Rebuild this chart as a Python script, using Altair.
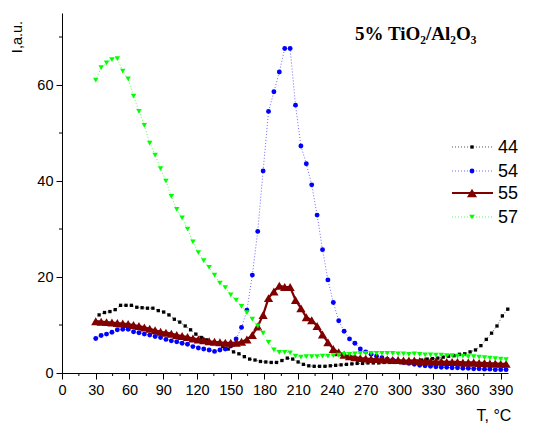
import altair as alt
import pandas as pd

# Temperature grid (series 54, 55, 57)
T = [30.0, 34.8, 39.6, 44.4, 49.2, 54.0, 58.8, 63.6, 68.4, 73.2,
     78.0, 82.8, 87.6, 92.4, 97.2, 102.0, 106.8, 111.6, 116.4, 121.2,
     126.0, 130.8, 135.6, 140.4, 145.2, 150.0, 154.8, 159.6, 164.4, 169.2,
     174.0, 178.8, 183.6, 188.4, 193.2, 198.0, 202.8, 207.6, 212.4, 217.2,
     222.0, 226.8, 231.6, 236.4, 241.2, 246.0, 250.8, 255.6, 260.4, 265.2,
     270.0, 274.8, 279.6, 284.4, 289.2, 294.0, 298.8, 303.6, 308.4, 313.2,
     318.0, 322.8, 327.6, 332.4, 337.2, 342.0, 346.8, 351.6, 356.4, 361.2,
     366.0, 370.8, 375.6, 380.4, 385.2, 390.0, 394.8]

# Temperature grid of series 44
T44 = [33.0, 37.8, 42.6, 47.3, 52.1, 56.9, 61.7, 66.5, 71.2, 76.0,
       80.8, 85.6, 90.4, 95.1, 99.9, 104.7, 109.5, 114.3, 119.0, 123.8,
       128.6, 133.4, 138.2, 142.9, 147.7, 152.5, 157.3, 162.1, 166.8, 171.6,
       176.4, 181.2, 186.0, 190.7, 195.5, 200.3, 205.1, 209.9, 214.6, 219.4,
       224.2, 229.0, 233.8, 238.5, 243.3, 248.1, 252.9, 257.7, 262.4, 267.2,
       272.0, 276.8, 281.6, 286.3, 291.1, 295.9, 300.7, 305.5, 310.2, 315.0,
       319.8, 324.6, 329.4, 334.1, 338.9, 343.7, 348.5, 353.3, 358.0, 362.8,
       367.6, 372.4, 377.2, 381.9, 386.7, 391.5, 396.3]

I44 = [12.1, 12.6, 12.8, 13.2, 14.1, 14.1, 14.1, 13.7, 13.6, 13.5,
       13.5, 13.0, 12.7, 12.1, 11.2, 10.6, 9.8, 9.0, 8.1, 7.4,
       6.9, 6.3, 6.0, 5.5, 5.0, 4.4, 4.0, 3.4, 2.9, 2.7,
       2.4, 2.3, 2.2, 2.2, 2.6, 3.1, 2.9, 2.3, 1.8, 1.5,
       1.4, 1.4, 1.4, 1.5, 1.6, 1.7, 1.8, 1.9, 2.0, 2.0,
       2.1, 2.1, 2.1, 2.2, 2.2, 2.2, 2.3, 2.3, 2.4, 2.5,
       2.7, 2.9, 3.0, 3.1, 3.3, 3.5, 3.6, 3.9, 4.0, 4.4,
       4.8, 5.7, 7.0, 8.3, 9.8, 11.9, 13.3]

I54 = [7.2, 7.8, 8.1, 8.5, 9.0, 9.1, 9.1, 8.6, 8.4, 8.1,
       7.9, 7.6, 7.4, 7.0, 6.7, 6.5, 6.2, 6.0, 5.5, 5.2,
       5.0, 4.8, 4.5, 4.8, 5.0, 5.6, 7.1, 9.5, 13.1, 20.4,
       29.5, 42.1, 54.5, 58.6, 62.7, 67.6, 67.6, 55.8, 47.3, 43.6,
       39.2, 32.9, 25.7, 19.4, 14.7, 10.9, 8.7, 7.1, 6.2, 5.0,
       4.4, 3.9, 3.5, 3.2, 2.9, 2.7, 2.5, 2.2, 2.0, 1.8,
       1.6, 1.5, 1.4, 1.3, 1.2, 1.2, 1.1, 1.1, 1.0, 1.0,
       0.9, 0.9, 0.8, 0.8, 0.7, 0.7, 0.7]

I55 = [10.8, 10.7, 10.6, 10.5, 10.4, 10.3, 10.2, 10.0, 9.8, 9.5,
       9.2, 8.9, 8.6, 8.4, 8.2, 7.9, 7.7, 7.5, 7.2, 7.0,
       6.8, 6.6, 6.5, 6.4, 6.3, 6.3, 6.3, 6.5, 7.0, 7.9,
       9.7, 12.1, 15.6, 17.0, 18.2, 17.9, 17.9, 15.2, 13.5, 11.6,
       11.0, 9.8, 8.0, 6.4, 5.0, 4.3, 3.8, 3.5, 3.3, 3.1,
       3.0, 2.9, 2.9, 2.8, 2.8, 2.7, 2.7, 2.6, 2.6, 2.6,
       2.5, 2.5, 2.4, 2.4, 2.4, 2.3, 2.3, 2.3, 2.2, 2.2,
       2.2, 2.1, 2.1, 2.0, 2.0, 1.9, 1.9]

I57 = [61.0, 63.6, 64.6, 65.3, 65.5, 62.9, 61.3, 57.7, 54.5, 51.6,
       47.9, 45.4, 42.6, 40.0, 36.8, 34.1, 32.3, 30.0, 27.3, 25.1,
       23.4, 22.0, 20.4, 18.7, 17.8, 16.3, 15.2, 13.9, 12.6, 11.2,
       9.8, 8.3, 6.4, 4.8, 4.3, 4.3, 4.2, 3.5, 3.3, 3.4,
       3.4, 3.4, 3.5, 3.5, 3.6, 3.7, 3.9, 3.9, 4.0, 4.1,
       4.1, 4.1, 4.1, 4.1, 4.1, 4.1, 4.0, 4.0, 3.9, 4.0,
       3.9, 3.8, 3.8, 3.7, 3.7, 3.6, 3.6, 3.5, 3.5, 3.4,
       3.4, 3.3, 3.2, 3.1, 3.0, 2.9, 2.8]

series_names = ["44", "54", "55", "57"]
x_ticks = list(range(0, 391, 30))
x_minor = list(range(15, 391, 30))
y_ticks = [0, 20, 40, 60]
y_minor = [10, 30, 50, 70]

W, H = 446, 360
xs = alt.Scale(domain=[0, 396.5], nice=False, zero=False)
ys = alt.Scale(domain=[0, 75], nice=False)

common_axis = dict(grid=False, title=None, tickSize=6, labelFontSize=14.5,
                   labelFont="Liberation Sans", labelColor="black",
                   domainColor="black", tickColor="black", domainWidth=1,
                   tickWidth=1, labelOverlap=False)
x_axis = alt.Axis(values=x_ticks, labelPadding=4, labelFlush=False, **common_axis)
y_axis = alt.Axis(values=y_ticks, labelPadding=3, **common_axis)

def X(field):
    return alt.X(field, type="quantitative", scale=xs, axis=x_axis)

def Y(field):
    return alt.Y(field, type="quantitative", scale=ys, axis=y_axis)

styles = {
    "44": dict(color="#000000", lcolor="#555555", shape="square", size=11, sw=1, dash=[1, 2]),
    "54": dict(color="#0000ff", lcolor="#6a6aff", shape="circle", size=24, sw=1, dash=[1, 2]),
    "55": dict(color="#800000", lcolor="#800000", shape="triangle-up", size=85, sw=2.2, dash=None),
    "57": dict(color="#00ff00", lcolor="#55ff55", shape="triangle-down", size=30, sw=1, dash=[1, 2]),
}
data = {"44": (T44, I44), "54": (T, I54), "55": (T, I55), "57": (T, I57)}

layers = []

# minor ticks
xm = pd.DataFrame({"T": x_minor})
layers.append(alt.Chart(xm).mark_rule(color="black", strokeWidth=1).encode(
    x=X("T"), y=alt.value(H), y2=alt.value(H + 3)))
ym = pd.DataFrame({"I": y_minor})
layers.append(alt.Chart(ym).mark_rule(color="black", strokeWidth=1).encode(
    y=Y("I"), x=alt.value(-3), x2=alt.value(0)))

for name in series_names:
    st = styles[name]
    tx, iy = data[name]
    df = pd.DataFrame({"T": tx, "I": iy})
    base = alt.Chart(df).encode(x=X("T"), y=Y("I"))
    lkw = dict(color=st["lcolor"], strokeWidth=st["sw"])
    if st["dash"] is not None:
        lkw["strokeDash"] = st["dash"]
    layers.append(base.mark_line(**lkw))
    layers.append(base.mark_point(shape=st["shape"], filled=True, color=st["color"],
                                  size=st["size"], opacity=1, strokeWidth=0))

# legend
legend_y = [134, 158, 180, 204]
for name, ly in zip(series_names, legend_y):
    st = styles[name]
    one = pd.DataFrame({"label": [name]})
    lkw = dict(color=st["lcolor"], strokeWidth=st["sw"])
    if st["dash"] is not None:
        lkw["strokeDash"] = st["dash"]
    layers.append(alt.Chart(one).mark_rule(**lkw).encode(
        x=alt.value(390), x2=alt.value(431), y=alt.value(ly)))
    layers.append(alt.Chart(one).mark_point(shape=st["shape"], filled=True, color=st["color"],
                                            size=st["size"] * (1.2 if name == "55" else 1),
                                            opacity=1, strokeWidth=0).encode(
        x=alt.value(410), y=alt.value(ly)))
    layers.append(alt.Chart(one).mark_text(align="left", baseline="middle", fontSize=18,
                                           font="Liberation Sans", color="black").encode(
        x=alt.value(436), y=alt.value(ly + 1), text="label:N"))

# titles
txt = pd.DataFrame({"t": ["5% TiO₂/Al₂O₃", "I,a.u.", "T, °C"]})
layers.append(alt.Chart(txt.iloc[[0]]).mark_text(align="left", baseline="alphabetic", fontSize=19,
                                                 fontWeight="bold", font="Liberation Serif",
                                                 color="black").encode(
    x=alt.value(293), y=alt.value(27), text="t:N"))
layers.append(alt.Chart(txt.iloc[[1]]).mark_text(align="center", baseline="middle", fontSize=14.5,
                                                 angle=270, font="Liberation Sans",
                                                 color="black").encode(
    x=alt.value(-44), y=alt.value(24), text="t:N"))
layers.append(alt.Chart(txt.iloc[[2]]).mark_text(align="center", baseline="middle", fontSize=16,
                                                 font="Liberation Sans", color="black").encode(
    x=alt.value(432), y=alt.value(403), text="t:N"))

chart = alt.layer(*layers).properties(
    width=W, height=H,
    padding={"left": 62, "top": 13, "right": 37, "bottom": 53},
    autosize=alt.AutoSizeParams(type="none"),
    background="white",
).configure_view(stroke=None)

chart.save("out.html", embed_options={"renderer": "svg", "actions": False})
